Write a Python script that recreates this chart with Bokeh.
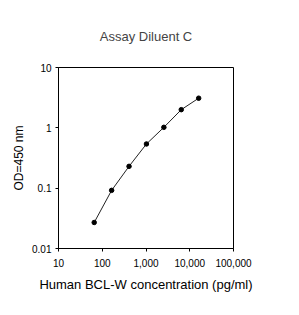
from bokeh.plotting import figure
from bokeh.models import FixedTicker, Range1d
from bokeh.embed import file_html
from bokeh.resources import INLINE

# data
conc = [65.5, 163.8, 409.6, 1024, 2560, 6400, 16000]
od = [0.027, 0.092, 0.23, 0.54, 1.02, 2.0, 3.1]

x_ticks = [10, 100, 1000, 10000, 100000]
x_tick_labels = ["10", "100", "1,000", "10,000", "100,000"]
y_ticks = [0.01, 0.1, 1, 10]
y_tick_labels = ["0.01", "0.1", "1", "10"]

FONT = "Liberation Sans"

p = figure(width=299, height=315, x_axis_type="log", y_axis_type="log",
           x_range=Range1d(10, 100000), y_range=Range1d(0.01, 10),
           output_backend="svg", toolbar_location=None,
           title="Assay Diluent C",
           min_border_left=58, min_border_right=66,
           min_border_top=67, min_border_bottom=67)

p.title.align = "center"
p.title.text_font = FONT
p.title.text_font_size = "13px"
p.title.text_font_style = "normal"
p.title.standoff = 47

p.xgrid.visible = False
p.ygrid.visible = False
p.outline_line_color = "black"
p.outline_line_width = 1
p.background_fill_color = "white"
p.border_fill_color = "white"

for ax in (p.xaxis[0], p.yaxis[0]):
    ax.axis_line_color = "black"
    ax.major_tick_line_color = "black"
    ax.minor_tick_line_color = None
    ax.major_tick_in = 0
    ax.major_tick_out = 3
    ax.major_label_text_font = FONT
    ax.major_label_text_font_size = "10px"
    ax.major_label_text_color = "black"
    ax.axis_label_text_font = FONT
    ax.axis_label_text_font_style = "normal"
    ax.axis_label_text_color = "black"

p.xaxis.axis_label_text_font_size = "13px"
p.yaxis.axis_label_text_font_size = "12px"

p.xaxis.ticker = FixedTicker(ticks=x_ticks)
p.xaxis.major_label_overrides = {t: l for t, l in zip(x_ticks, x_tick_labels)}
p.yaxis.ticker = FixedTicker(ticks=y_ticks)
p.yaxis.major_label_overrides = {t: l for t, l in zip(y_ticks, y_tick_labels)}

p.xaxis.axis_label = "Human BCL-W concentration (pg/ml)"
p.yaxis.axis_label = "OD=450 nm"
p.xaxis.major_label_standoff = 7
p.xaxis.axis_label_standoff = 7
p.yaxis.major_label_standoff = 4
p.yaxis.axis_label_standoff = 3

p.line(conc, od, line_color="#222222", line_width=1)
p.scatter(conc, od, size=4.5, fill_color="black", line_color="black")

open("out.html", "w").write(file_html(p, INLINE))
